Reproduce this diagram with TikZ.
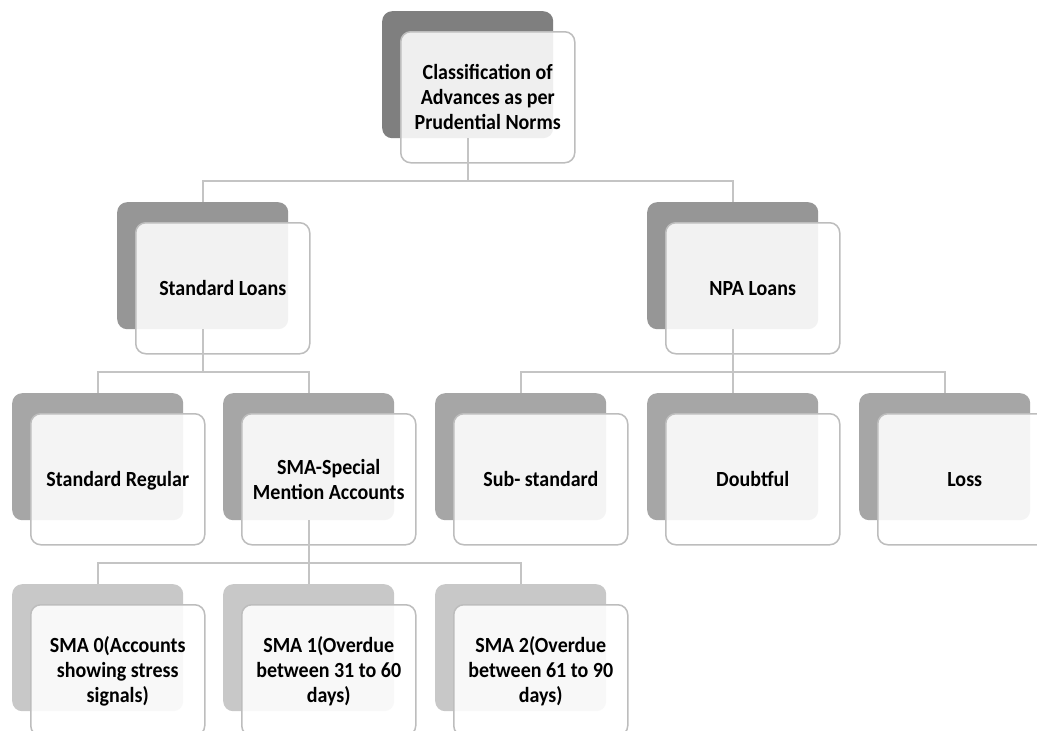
\documentclass[tikz,border=0pt]{standalone}
\usepackage{fontspec}
\usepackage{graphicx}
\setmainfont{Carlito}
\usetikzlibrary{calc}
\definecolor{backA}{HTML}{7F7F7F}
\definecolor{backB}{HTML}{969696}
\definecolor{backC}{HTML}{A6A6A6}
\definecolor{backD}{HTML}{C8C8C8}
\definecolor{frontline}{HTML}{BDBDBD}
\definecolor{conline}{HTML}{C4C4C4}
\tikzset{
  backbox/.style={rectangle, rounded corners=10pt, inner sep=0pt, anchor=north west,
    minimum width=171pt, minimum height=127pt},
  frontbox/.style={rectangle, rounded corners=10pt, inner sep=0pt, anchor=north west,
    minimum width=174pt, minimum height=131pt, draw=frontline, line width=1.5pt,
    fill=white, fill opacity=0.88, text opacity=1, align=center,
    font=\bfseries\fontsize{20}{23.1}\selectfont},
  conn/.style={draw=conline, line width=2pt}
}
\newcommand\tbox[5]{%
  \node[backbox, fill=#4] (#1-b) at (#2,#3) {};
  \node[frontbox] (#1) at (#2+18,#3+20) {};
  \node[inner sep=0pt, text opacity=1, font=\bfseries\fontsize{20}{23.1}\selectfont] (#1-t) at ([yshift=-2.5pt]#1.center)
    {\scalebox{1}[1.08]{\begin{tabular}{@{}c@{}}#5\end{tabular}}};
}
\begin{document}
\begin{tikzpicture}[x=1pt,y=-1pt]
\useasboundingbox (0,0) rectangle (1037,731);
\clip (0,0) rectangle (1037,731);
\fill[white] (0,0) rectangle (1037,731);
\tbox{root}{382}{11}{backA}{Classification of\\Advances as per\\Prudential Norms}
\tbox{std}{117}{202}{backB}{Standard Loans}
\tbox{npa}{647}{202}{backB}{NPA Loans}
\tbox{reg}{12}{393}{backC}{Standard Regular}
\tbox{sma}{223}{393}{backC}{SMA-Special\\Mention Accounts}
\tbox{sub}{435}{393}{backC}{Sub- standard}
\tbox{dbt}{647}{393}{backC}{Doubtful}
\tbox{loss}{859}{393}{backC}{Loss}
\tbox{smaz}{12}{584}{backD}{SMA 0(Accounts\\showing stress\\signals)}
\tbox{smao}{223}{584}{backD}{SMA 1(Overdue\\between 31 to 60\\days)}
\tbox{smat}{435}{584}{backD}{SMA 2(Overdue\\between 61 to 90\\days)}
% connectors
\foreach \p/\c in {root/std, root/npa, std/reg, std/sma, npa/sub, npa/dbt, npa/loss, sma/smaz, sma/smao, sma/smat}{
  \draw[conn] (\p-b.south) |- ($(\c-b.north)+(0,-21)$) -- (\c-b.north);
}
\end{tikzpicture}
\end{document}
